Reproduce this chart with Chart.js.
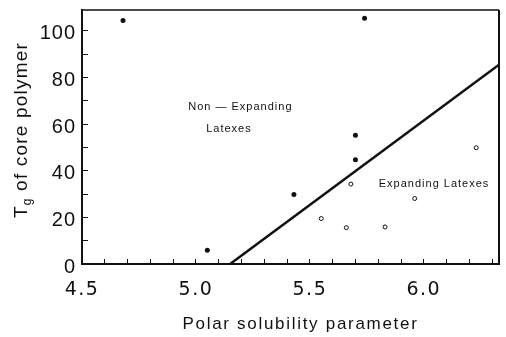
<!DOCTYPE html>
<html>
<head>
<meta charset="utf-8">
<script src="https://cdn.jsdelivr.net/npm/chart.js@4/dist/chart.umd.min.js"></script>
<style>
  html, body { margin: 0; padding: 0; background: #fff; }
</style>
</head>
<body>
<canvas id="chart" width="506" height="337"></canvas>
<script>
// Tg of the core polymer against polar solubility parameter
const nonExpandingX = [4.68, 5.05, 5.43, 5.70, 5.70, 5.74];
const nonExpandingY = [104.5, 5.9, 29.8, 44.7, 55.3, 105.5];
const expandingX = [5.55, 5.66, 5.68, 5.83, 5.96, 6.23];
const expandingY = [19.5, 15.6, 34.3, 15.9, 28.1, 49.9];
// dividing line between the two regions
const boundaryX = [5.15, 6.33];
const boundaryY = [0, 85.5];

const xLabels = ["4.5", "5.0", "5.5", "6.0"];
const yLabels = ["0", "20", "40", "60", "80", "100"];

const toPoints = (xs, ys) => xs.map((x, i) => ({ x: x, y: ys[i] }));
const INK = "#111";

// wraps a scale's draw step so its text gets letter spacing and a nudge
function spaced(scale, method, spacing, dx, dy) {
  if (scale["_sp_" + method]) return;
  const orig = scale[method];
  scale[method] = function (area) {
    const c = this.ctx;
    c.save();
    c.letterSpacing = spacing + "px";
    c.translate(dx || 0, dy || 0);
    orig.call(this, area);
    c.restore();
  };
  scale["_sp_" + method] = true;
}

// fixed box sizes, no extra room for overhanging labels
function fixSize(prop, size) {
  return function (s) {
    s[prop] = size;
    s.paddingTop = s.paddingBottom = s.paddingLeft = s.paddingRight = 0;
  };
}

const framePlugin = {
  id: "frame",
  beforeDraw(chart) {
    spaced(chart.scales.x, "drawLabels", 1.5);
    spaced(chart.scales.x, "drawTitle", 1.7, 10, 1);
    spaced(chart.scales.y, "drawLabels", 1, 0, 3);
  },
  afterDraw(chart) {
    const ctx = chart.ctx;
    const a = chart.chartArea;
    const sx = chart.scales.x, sy = chart.scales.y;
    ctx.save();
    ctx.strokeStyle = INK;
    // top and right edges of the box
    ctx.lineWidth = 1.5;
    ctx.beginPath();
    ctx.moveTo(a.left, a.top);
    ctx.lineTo(a.right, a.top);
    ctx.stroke();
    ctx.lineWidth = 2;
    ctx.beginPath();
    ctx.moveTo(a.right, a.top);
    ctx.lineTo(a.right, a.bottom);
    ctx.stroke();

    // region labels
    ctx.fillStyle = INK;
    ctx.font = "11px 'Liberation Sans', Arial, sans-serif";
    ctx.letterSpacing = "1px";
    ctx.textAlign = "center";
    ctx.textBaseline = "middle";
    ctx.fillText("Non \u2014 Expanding", sx.getPixelForValue(5.195), sy.getPixelForValue(67.5));
    ctx.fillText("Latexes", sx.getPixelForValue(5.145), sy.getPixelForValue(58));
    ctx.fillText("Expanding Latexes", sx.getPixelForValue(6.045), sy.getPixelForValue(34.5));

    // y axis title with subscript g
    ctx.translate(27, 130);
    ctx.rotate(-Math.PI / 2);
    ctx.textAlign = "left";
    ctx.textBaseline = "alphabetic";
    ctx.letterSpacing = "1.2px";
    const big = "19px 'Liberation Sans', Arial, sans-serif";
    const small = "12px 'Liberation Sans', Arial, sans-serif";
    ctx.font = big;
    const wT = ctx.measureText("T").width;
    const rest = " of core polymer";
    const wR = ctx.measureText(rest).width;
    ctx.font = small;
    const wG = ctx.measureText("g").width;
    let x0 = -(wT + wG + wR) / 2;
    ctx.font = big;
    ctx.fillText("T", x0, 0);
    ctx.font = small;
    ctx.fillText("g", x0 + wT, 4);
    ctx.font = big;
    ctx.fillText(rest, x0 + wT + wG, 0);
    ctx.restore();
  }
};

new Chart(document.getElementById("chart"), {
  type: "scatter",
  data: {
    datasets: [
      {
        label: "boundary",
        data: toPoints(boundaryX, boundaryY),
        showLine: true,
        borderColor: INK,
        borderWidth: 2.5,
        pointRadius: 0,
        fill: false
      },
      {
        label: "Non-Expanding",
        data: toPoints(nonExpandingX, nonExpandingY),
        backgroundColor: INK,
        borderColor: INK,
        borderWidth: 0,
        pointRadius: 2.5
      },
      {
        label: "Expanding",
        data: toPoints(expandingX, expandingY),
        backgroundColor: "#fff",
        borderColor: INK,
        borderWidth: 1,
        pointRadius: 2
      }
    ]
  },
  options: {
    responsive: false,
    animation: false,
    events: [],
    layout: { padding: { top: 10, right: 7, left: 0, bottom: 0 } },
    plugins: { legend: { display: false }, tooltip: { enabled: false } },
    scales: {
      x: {
        type: "linear",
        min: 4.5,
        max: 6.33,
        afterFit: fixSize("height", 73),
        grid: { drawOnChartArea: false, tickLength: -5, color: INK, lineWidth: 1 },
        border: { display: true, color: INK, width: 2 },
        ticks: {
          stepSize: 0.1,
          includeBounds: false,
          autoSkip: false,
          maxRotation: 0,
          padding: 20,
          color: INK,
          font: { family: "'DejaVu Sans', sans-serif", size: 19 },
          callback(v) {
            const i = Math.round((v - 4.5) / 0.5);
            return Math.abs(v - (4.5 + i * 0.5)) < 1e-6 ? xLabels[i] : "";
          }
        },
        title: {
          display: true,
          text: "Polar solubility parameter",
          color: INK,
          font: { family: "'Liberation Sans', Arial, sans-serif", size: 17 },
          padding: { top: 0, bottom: 3 }
        }
      },
      y: {
        min: 0,
        max: 109,
        afterFit: fixSize("width", 82),
        grid: { drawOnChartArea: false, tickLength: -6, color: INK, lineWidth: 1 },
        border: { display: true, color: INK, width: 2 },
        ticks: {
          stepSize: 10,
          includeBounds: false,
          autoSkip: false,
          padding: 12,
          color: INK,
          font: { family: "'Liberation Sans', Arial, sans-serif", size: 20 },
          callback(v) {
            return v % 20 === 0 ? yLabels[v / 20] : "";
          }
        }
      }
    }
  },
  plugins: [framePlugin]
});
</script>
</body>
</html>
